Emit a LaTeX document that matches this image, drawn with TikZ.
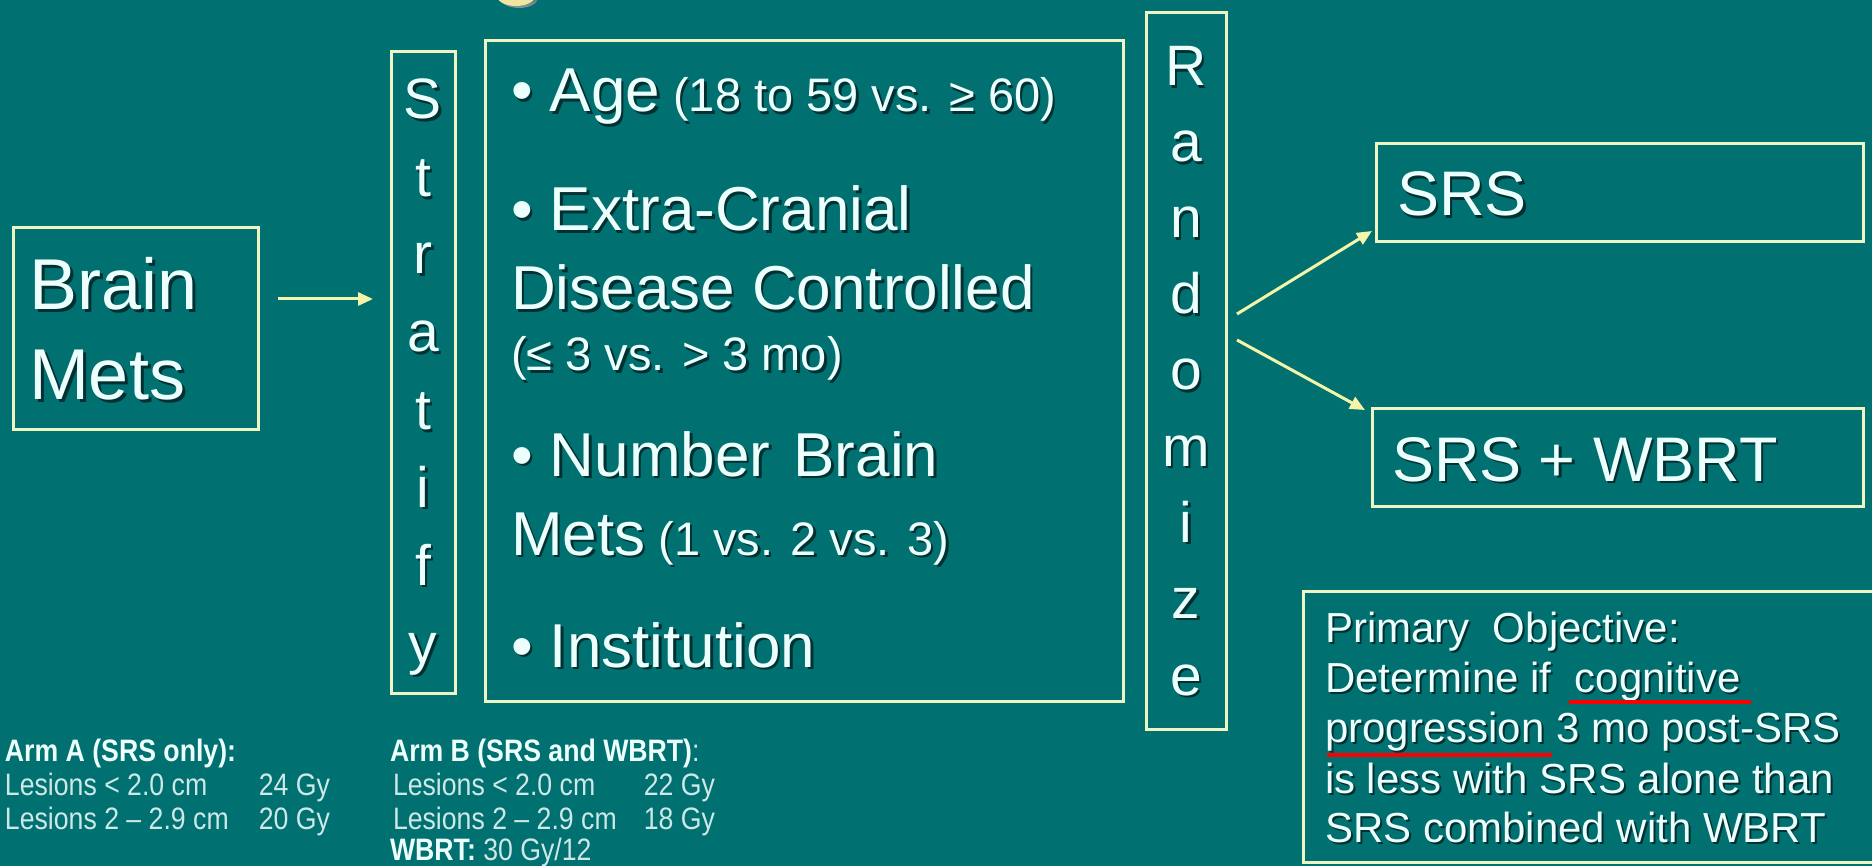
\documentclass[tikz,border=0pt]{standalone}
\usepackage{fontspec}
\setmainfont{Liberation Sans}
\newfontfamily\narrowsans[FakeStretch=0.86]{Liberation Sans}
\usetikzlibrary{arrows.meta}

\definecolor{slidebg}{RGB}{0,112,112}
\definecolor{framec}{RGB}{238,245,196}
\definecolor{arrowc}{RGB}{245,245,170}
\definecolor{ink}{RGB}{236,255,252}
\definecolor{softink}{RGB}{205,232,230}
\definecolor{shade}{RGB}{0,48,50}
\definecolor{titley}{RGB}{240,230,160}
\definecolor{redline}{RGB}{250,0,0}

% text with a soft drop shadow (optional offset)
\newcommand\shd[2][2.5pt]{\leavevmode\rlap{\kern#1\raisebox{-#1}{\textcolor{shade}{#2}}}#2}
\newcommand\fs[1]{\fontsize{#1}{#1}\selectfont}

\begin{document}
\begin{tikzpicture}[x=1pt,y=-1pt,
  box/.style={draw=framec,line width=3pt,inner sep=0pt,outer sep=0pt,anchor=north west},
  txt/.style={anchor=base west,inner sep=0pt,outer sep=0pt,text=ink},
  ltr/.style={anchor=base,inner sep=0pt,outer sep=0pt,text=ink,font=\fs{57}},
  arr/.style={draw=arrowc,line width=3pt,-{Triangle[length=15pt,width=13pt]}},
  note/.style={anchor=base west,inner sep=0pt,outer sep=0pt,text=softink,font=\narrowsans\fs{31}},
  notehead/.style={note,text=ink,font=\narrowsans\bfseries\fs{31}}]

% slide background
\fill[slidebg] (0,0) rectangle (1872,866);
\useasboundingbox (0,0) rectangle (1872,866);

% lower edge of the title glyph
\fill[shade,opacity=.5] (519,-2) ellipse [x radius=19pt, y radius=10pt];
\fill[titley] (516,-4) ellipse [x radius=19pt, y radius=10pt];

% frames
\node[box,minimum width=245pt,minimum height=202pt] (brain) at (13,228) {};
\node[box,minimum width=64pt,minimum height=641pt] (strat) at (391,52) {};
\node[box,minimum width=638pt,minimum height=660pt] (factors) at (485,41) {};
\node[box,minimum width=80pt,minimum height=716pt] (rand) at (1146,13) {};
\node[box,minimum width=487pt,minimum height=98pt] (srs) at (1376,144) {};
\node[box,minimum width=491pt,minimum height=97pt] (srsw) at (1372,409) {};
\node[box,minimum width=600pt,minimum height=271pt] (obj) at (1303,591) {};

% Brain Mets
\node[txt,font=\fs{72}] (brainA) at (29,310) {\shd[3pt]{Brain}};
\node[txt,font=\fs{72}] (brainB) at (29,400) {\shd[3pt]{Mets}};

% vertical words
\foreach \l/\yy [count=\i] in {S/119,t/197,r/274,a/352,t/430,i/507,f/585,y/663}
  \node[ltr] (st\i) at (423,\yy) {\shd{\l}};
\foreach \l/\yy [count=\i] in {R/86,a/162,n/238,d/314,o/390,m/466,i/542,z/618,e/695}
  \node[ltr] (rd\i) at (1186,\yy) {\shd{\l}};

% stratification factors
\node[txt] (f1) at (511,112) {\fs{62}\shd{• Age}\fs{47}\ \shd{(18 to 59 vs. ≥ 60)}};
\node[txt,font=\fs{62}] (f2) at (511,231) {\shd{• Extra-Cranial}};
\node[txt,font=\fs{62}] (f3) at (511,310) {\shd{Disease Controlled}};
\node[txt,font=\fs{47}] (f4) at (511,371) {\shd{(≤ 3 vs. > 3 mo)}};
\node[txt,font=\fs{62}] (f5) at (511,476) {\shd{• Number\hspace{6pt} Brain}};
\node[txt] (f6) at (511,555) {\fs{62}\shd{Mets}\fs{47}\ \shd{(1 vs. 2 vs. 3)}};
\node[txt,font=\fs{62}] (f7) at (511,667) {\shd{• Institution}};

% arms
\node[txt,font=\fs{63}] (srsT) at (1397,216) {\shd{SRS}};
\node[txt,font=\fs{63}] (srswT) at (1392,481) {\shd{SRS + WBRT}};

% arrows
\draw[arr] ([shift={(20,-30)}]brain.east) -- ([shift={(-18,-73.5)}]strat.west);
\draw[arr] ([shift={(11,-57)}]rand.east) -- ([shift={(-4,-11)}]srs.south west);
\draw[arr] ([shift={(11,-31)}]rand.east) -- ([shift={(-7,1)}]srsw.north west);

% primary objective
\node[txt,font=\fs{42}] (p1) at (1325,642) {\shd[2pt]{Primary\ \ Objective:}};
\node[txt,font=\fs{42}] (p2) at (1325,692) {\shd[2pt]{Determine if\ \ cognitive}};
\node[txt,font=\fs{42}] (p3) at (1325,742) {\shd[2pt]{progression 3 mo post-SRS}};
\node[txt,font=\fs{42}] (p4) at (1325,793) {\shd[2pt]{is less with SRS alone than}};
\node[txt,font=\fs{42}] (p5) at (1325,842) {\shd[2pt]{SRS combined with WBRT}};
\draw[redline,line width=4.5pt] (1569,702) -- (1751,702);
\draw[redline,line width=4.5pt] (1327,755) -- (1552,755);

% dose notes
\node[notehead] (armA) at (5,761) {Arm A (SRS only):};
\node[note] (a1) at (5,795) {\hbox to 325pt{Lesions < 2.0 cm\hfill 24 Gy}};
\node[note] (a2) at (5,829) {\hbox to 325pt{Lesions 2 – 2.9 cm\hfill 20 Gy}};
\node[note] (armB) at (390,761) {\textcolor{ink}{\bfseries Arm B (SRS and WBRT)}:};
\node[note] (b1) at (393,795) {\hbox to 322pt{Lesions < 2.0 cm\hfill 22 Gy}};
\node[note] (b2) at (393,829) {\hbox to 322pt{Lesions 2 – 2.9 cm\hfill 18 Gy}};
\node[note] (b3) at (390,860) {\textcolor{ink}{\bfseries WBRT:} 30 Gy/12};
\end{tikzpicture}
\end{document}
